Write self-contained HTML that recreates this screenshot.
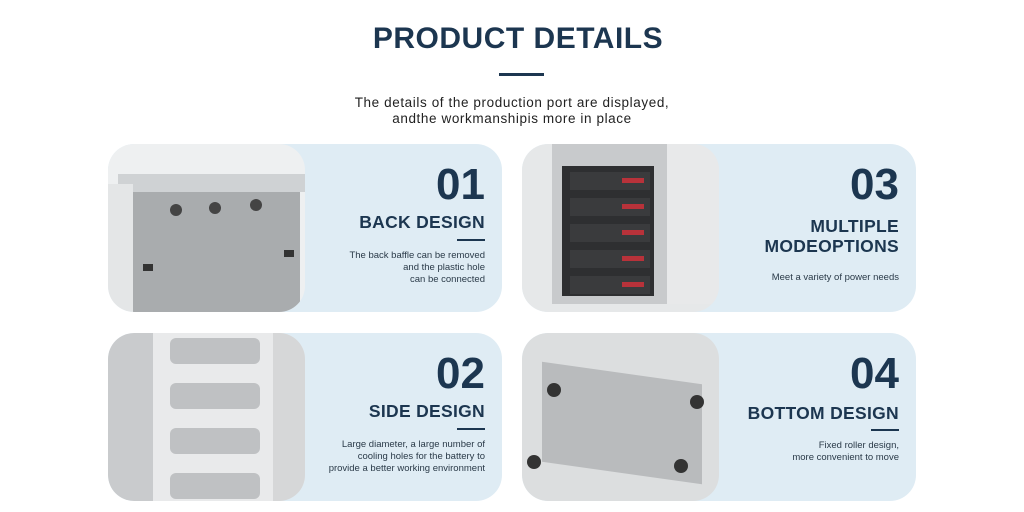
<!DOCTYPE html>
<html><head><style>
body{margin:0;width:1024px;height:512px;background:#fff;position:relative;overflow:hidden;font-family:"Liberation Sans",Arial,sans-serif;color:#1c3650}
.t{position:absolute;left:0;width:1024px;text-align:center}
.card{position:absolute;width:394px;height:168px;background:#dfecf4;border-radius:26px;overflow:hidden}
.img{position:absolute;left:0;top:0;width:197px;height:168px;border-radius:26px;overflow:hidden;background:#d8d9da}
.tx{position:absolute;right:17px;text-align:right}
.num{font-size:44px;font-weight:bold;line-height:44px}
.h{font-size:17.5px;font-weight:bold;line-height:20px;letter-spacing:.3px}
.bar{position:absolute;right:17px;width:28px;height:2px;background:#1c3650}
.d{font-size:9.5px;line-height:12px;color:#2a3a48}
</style></head><body>
<div class="t" style="top:22px;left:6px;font-size:30px;font-weight:bold;letter-spacing:0.5px;color:#1c3650">PRODUCT DETAILS</div>
<div style="position:absolute;left:499px;top:73px;width:45px;height:3px;background:#1c3650"></div>
<div class="t" style="top:95px;font-size:13.5px;line-height:16px;letter-spacing:0.6px;color:#222">The details of the production port are displayed,<br>andthe workmanshipis more in place</div>

<!-- card 1 -->
<div class="card" style="left:108px;top:144px">
 <div class="img" style="background:#eef0f1">
  <div style="position:absolute;left:10px;top:30px;width:190px;height:18px;background:#cfd2d4"></div>
  <div style="position:absolute;left:25px;top:48px;width:167px;height:130px;background:#a9acae"></div>
  <div style="position:absolute;left:0;top:40px;width:25px;height:130px;background:#e4e6e7"></div>
  <div style="position:absolute;left:62px;top:60px;width:12px;height:12px;border-radius:50%;background:#444"></div>
  <div style="position:absolute;left:101px;top:58px;width:12px;height:12px;border-radius:50%;background:#444"></div>
  <div style="position:absolute;left:142px;top:55px;width:12px;height:12px;border-radius:50%;background:#444"></div>
  <div style="position:absolute;left:35px;top:120px;width:10px;height:7px;background:#333"></div>
  <div style="position:absolute;left:176px;top:106px;width:10px;height:7px;background:#333"></div>
 </div>
 <div class="tx num" style="top:19px">01</div>
 <div class="tx h" style="top:68px">BACK DESIGN</div>
 <div class="bar" style="top:95px"></div>
 <div class="tx d" style="top:106px">The back baffle can be removed<br>and the plastic hole<br>can be connected</div>
</div>

<!-- card 3 -->
<div class="card" style="left:522px;top:144px">
 <div class="img" style="background:#e6e8e9">
  <div style="position:absolute;left:30px;top:0;width:115px;height:160px;background:#c8cacc"></div>
  <div style="position:absolute;left:145px;top:0;width:52px;height:160px;background:#e8e9ea"></div>
  <div style="position:absolute;left:40px;top:22px;width:92px;height:130px;background:#2e2f31"></div>
  <div style="position:absolute;left:48px;top:28px;width:80px;height:18px;background:#3a3b3d;box-shadow:0 26px 0 #3a3b3d,0 52px 0 #3a3b3d,0 78px 0 #3a3b3d,0 104px 0 #3a3b3d"></div>
  <div style="position:absolute;left:100px;top:34px;width:22px;height:5px;background:#b8323a;box-shadow:0 26px 0 #b8323a,0 52px 0 #b8323a,0 78px 0 #b8323a,0 104px 0 #b8323a"></div>
 </div>
 <div class="tx num" style="top:19px">03</div>
 <div class="tx h" style="top:72px;line-height:20px">MULTIPLE<br>MODEOPTIONS</div>
 <div class="tx d" style="top:128px">Meet a variety of power needs</div>
</div>

<!-- card 2 -->
<div class="card" style="left:108px;top:333px">
 <div class="img" style="background:#e9eaeb">
  <div style="position:absolute;left:0;top:0;width:45px;height:168px;background:#c9cbcd"></div>
  <div style="position:absolute;left:62px;top:5px;width:90px;height:26px;border-radius:6px;background:#bfc1c3;box-shadow:0 45px 0 #bfc1c3,0 90px 0 #bfc1c3,0 135px 0 #bfc1c3"></div>
  <div style="position:absolute;left:165px;top:0;width:32px;height:168px;background:#d6d7d8"></div>
 </div>
 <div class="tx num" style="top:19px">02</div>
 <div class="tx h" style="top:68px">SIDE DESIGN</div>
 <div class="bar" style="top:95px"></div>
 <div class="tx d" style="top:106px">Large diameter, a large number of<br>cooling holes for the battery to<br>provide a better working environment</div>
</div>

<!-- card 4 -->
<div class="card" style="left:522px;top:333px">
 <div class="img" style="background:#dcdedf">
  <div style="position:absolute;left:20px;top:40px;width:160px;height:100px;background:#b9bbbd;transform:skewY(8deg)"></div>
  <div style="position:absolute;left:25px;top:50px;width:14px;height:14px;border-radius:50%;background:#333"></div>
  <div style="position:absolute;left:168px;top:62px;width:14px;height:14px;border-radius:50%;background:#333"></div>
  <div style="position:absolute;left:5px;top:122px;width:14px;height:14px;border-radius:50%;background:#333"></div>
  <div style="position:absolute;left:152px;top:126px;width:14px;height:14px;border-radius:50%;background:#333"></div>
 </div>
 <div class="tx num" style="top:19px">04</div>
 <div class="tx h" style="top:70px">BOTTOM DESIGN</div>
 <div class="bar" style="top:96px"></div>
 <div class="tx d" style="top:107px">Fixed roller design,<br>more convenient to move</div>
</div>
</body></html>
